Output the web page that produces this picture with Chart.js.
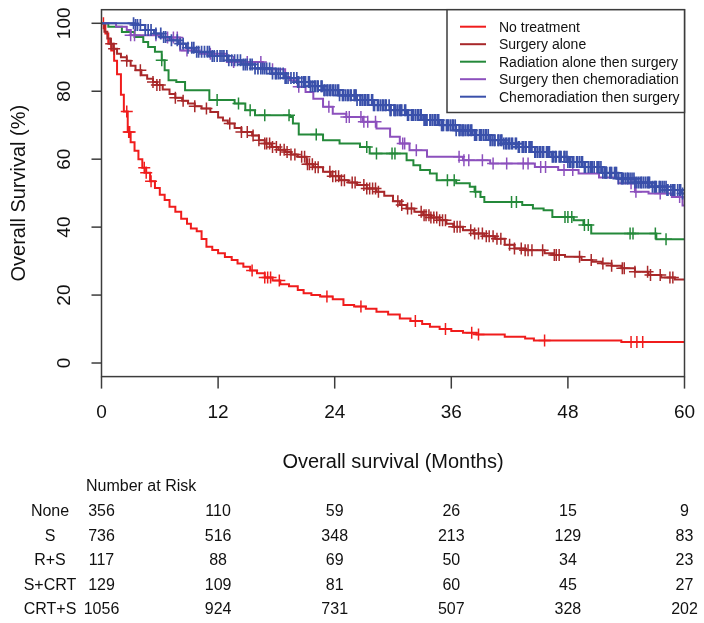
<!DOCTYPE html>
<html>
<head>
<meta charset="utf-8">
<script src="https://cdn.jsdelivr.net/npm/chart.js@4.4.1/dist/chart.umd.min.js"></script>
<style>
  html, body { margin: 0; padding: 0; background: #fff; }
  #wrap { width: 704px; height: 623px; position: relative; }
</style>
</head>
<body>
<div id="wrap"><canvas id="kmChart"></canvas></div>
<script>
// --- Data ---
const groupNames = ['No treatment', 'Surgery alone', 'Radiation alone then surgery', 'Surgery then chemoradiation', 'Chemoradiation then surgery'];
const groupColors = ['#f01c1c', '#a8282a', '#24893a', '#8c50bd', '#3a50aa'];

const xTicks = [0, 12, 24, 36, 48, 60];
const yTicks = [0, 20, 40, 60, 80, 100];

// No treatment
const noneTimes = [0, 0.4, 0.7, 1.0, 1.3, 1.6, 2.0, 2.3, 2.7, 3.0, 3.4, 3.8, 4.2, 4.6, 5.0, 5.5, 6.0, 6.5, 7.0, 7.6, 8.2, 8.8, 9.2, 9.8, 10.3, 10.8, 11.4, 12.0, 12.7, 13.4, 14.0, 14.6, 15.3, 16.0, 16.8, 17.6, 18.4, 19.3, 20.2, 20.8, 21.6, 22.5, 23.8, 24.9, 26.0, 27.2, 28.3, 29.5, 30.7, 31.8, 33.0, 33.8, 34.8, 36.0, 37.2, 38.6, 41.5, 43.6, 44.5, 53.5, 60];
const noneSurv  = [100, 97, 94, 92, 89, 85, 79, 74, 68, 65, 62.5, 60, 57.5, 56, 53.5, 51.5, 49.5, 48, 46, 44.5, 42.5, 41, 39.6, 38.8, 36.5, 34.2, 33.3, 32.3, 31.2, 30.3, 29.3, 28.3, 27.2, 26.4, 25.2, 24.3, 23.2, 22.6, 21.5, 20.5, 20.0, 19.6, 18.8, 17.1, 16.6, 16.0, 15.1, 14.3, 13.1, 12.4, 11.5, 10.7, 10.0, 9.4, 8.9, 8.4, 7.7, 7.2, 6.6, 6.2, 6.2];
const noneCens  = [0.2, 2.6, 2.8, 2.9, 4.4, 4.6, 5.1, 15.5, 16.8, 17.1, 17.4, 18.3, 23.2, 26.7, 32.3, 35.4, 38.1, 38.8, 45.6, 54.5, 55.1, 55.7];

// Surgery alone
const sTimes = [0, 0.3, 0.6, 0.9, 1.2, 1.6, 2.0, 2.6, 3.0, 3.5, 4.1, 4.7, 5.3, 5.7, 6.3, 7.0, 7.6, 8.3, 8.9, 9.6, 10.3, 11.2, 12.0, 12.5, 13.0, 13.7, 14.4, 15.5, 16.2, 16.8, 17.5, 18.2, 18.9, 19.5, 20.2, 21.1, 21.8, 22.8, 23.6, 24.5, 25.4, 26.3, 27.3, 28.3, 29.1, 30.0, 30.7, 31.4, 32.2, 33.1, 33.9, 34.8, 35.5, 36.2, 37.2, 38.3, 39.4, 40.5, 41.5, 42.5, 43.6, 45.6, 46.6, 47.7, 49.4, 50.5, 51.5, 52.5, 53.5, 54.9, 56.3, 57.6, 59.0, 60];
const sSurv  = [100, 97.5, 95.5, 94, 92.5, 91, 90, 89, 87.5, 86.2, 84.7, 83.7, 82.7, 81.8, 80.5, 79.2, 78.1, 77.2, 76.4, 75.6, 74.9, 73.9, 72.3, 71.4, 70.5, 69.2, 68.0, 67.0, 65.6, 64.6, 63.6, 62.8, 62.1, 61.4, 60.7, 58.5, 57.6, 56.3, 55.0, 53.8, 53.1, 52.4, 51.4, 50.4, 49.2, 47.6, 46.5, 45.5, 44.5, 43.5, 42.8, 42.0, 41.0, 40.1, 39.1, 38.1, 37.3, 36.6, 34.8, 33.7, 33.2, 32.3, 31.8, 31.3, 30.3, 29.8, 29.3, 28.6, 27.9, 26.9, 25.9, 25.2, 24.6, 24.6];
const sCens  = [1.0, 1.3, 2.6, 4.0, 5.3, 5.7, 6.0, 7.6, 8.4, 9.6, 10.8, 13.2, 14.4, 15.0, 15.6, 16.2, 16.8, 17.0, 17.3, 17.6, 18.0, 18.4, 18.8, 19.1, 19.5, 19.9, 20.6, 20.9, 21.2, 21.4, 21.7, 22.0, 22.3, 23.5, 23.8, 24.1, 24.4, 24.7, 25.0, 25.8, 26.1, 27.0, 27.3, 27.6, 27.9, 28.2, 28.5, 30.5, 30.9, 31.5, 31.9, 32.9, 33.2, 33.4, 33.7, 33.9, 34.2, 34.5, 34.8, 35.1, 35.4, 36.3, 36.6, 36.9, 38.0, 38.4, 38.8, 39.2, 39.6, 39.9, 40.3, 40.7, 41.1, 42.0, 42.5, 43.2, 43.6, 43.9, 44.3, 45.4, 46.6, 46.8, 47.1, 49.2, 50.4, 51.6, 52.5, 53.6, 53.8, 54.9, 56.2, 56.5, 57.5, 58.5, 58.8];

// Radiation alone then surgery
const rsTimes = [0, 0.7, 2.1, 3.4, 4.3, 4.8, 5.5, 6.2, 6.5, 6.9, 7.7, 8.6, 11.1, 13.7, 14.8, 15.8, 19.4, 19.7, 20.3, 22.8, 24.5, 26.6, 27.6, 31.4, 32.1, 32.8, 33.8, 34.5, 36.5, 37.9, 38.4, 39.0, 39.4, 43.3, 44.4, 45.5, 46.4, 48.6, 49.6, 50.4, 57.1, 60];
const rsSurv  = [100, 99, 97.4, 96, 94.5, 93, 91.6, 89.1, 86.2, 83.2, 82.7, 80.3, 77.4, 76.4, 74.4, 72.9, 72.4, 70.5, 67.3, 65.6, 64.6, 63.6, 61.7, 59.7, 58.2, 56.8, 55.8, 53.8, 52.9, 51.9, 50.4, 48.9, 47.4, 46.5, 45.5, 45.0, 43.0, 42.0, 40.6, 38.1, 36.4, 36.4];
const rsCens  = [6.2, 11.9, 14.1, 15.3, 16.8, 19.3, 22.1, 27.3, 28.3, 29.9, 30.2, 35.6, 36.3, 38.5, 42.2, 42.7, 47.7, 48.0, 48.4, 49.7, 50.1, 54.4, 54.7, 57.0, 58.1];

// Surgery then chemoradiation
const scTimes = [0, 1.5, 2.6, 3.0, 6.0, 8.1, 10.1, 12.9, 16.6, 18.9, 19.4, 20.2, 21.0, 21.8, 22.8, 23.8, 25.2, 26.9, 28.3, 29.7, 30.7, 31.7, 33.5, 37.2, 40.0, 44.6, 47.0, 49.1, 51.2, 53.2, 54.9, 56.3, 58.7, 59.8, 60];
const scSurv  = [100, 99, 98, 96.5, 95.8, 92, 91, 88.6, 86.5, 84.2, 83.2, 81.3, 79.8, 77.8, 75.4, 73.4, 72.4, 71.0, 69.0, 66.6, 64.6, 62.6, 60.7, 59.7, 58.7, 57.7, 56.8, 55.8, 54.6, 52.9, 50.4, 49.9, 48.9, 46.4, 46.4];
const scCens  = [3.0, 3.4, 5.6, 6.8, 7.4, 7.8, 8.8, 11.2, 13.6, 15.0, 16.4, 17.6, 20.3, 23.4, 25.2, 25.5, 26.7, 27.0, 27.4, 28.2, 31.0, 31.2, 32.4, 36.8, 37.3, 37.8, 39.2, 40.3, 41.7, 43.4, 43.9, 45.2, 45.7, 47.6, 48.5, 54.5, 55.0, 57.5, 59.5];

// Chemoradiation then surgery
const crtTimes = [0, 3.4, 4.5, 5.4, 6.2, 7.0, 7.9, 8.7, 9.6, 11.3, 13.0, 14.4, 15.8, 17.5, 18.9, 20.2, 21.5, 22.8, 24.5, 26.3, 28.0, 29.7, 31.4, 33.1, 34.8, 36.5, 38.2, 40.0, 41.4, 42.9, 44.6, 46.3, 48.0, 49.7, 51.5, 53.2, 54.9, 56.6, 58.2, 59.7, 60];
const crtSurv  = [100, 99.5, 98, 97, 96, 95, 94, 92.8, 91.6, 90.4, 89.1, 87.9, 86.7, 85.2, 83.9, 82.7, 81.5, 80.3, 78.8, 77.4, 75.9, 74.4, 73.0, 71.5, 70.0, 68.5, 67.1, 65.6, 64.6, 63.6, 62.1, 60.7, 59.2, 57.7, 56.0, 54.3, 53.1, 51.9, 50.9, 49.9, 49.9];
const crtCens  = [3.3, 3.5, 3.7, 4.0, 4.5, 4.8, 5.1, 5.6, 6.1, 6.4, 6.6, 7.2, 7.8, 8.1, 8.4, 8.9, 9.3, 9.5, 9.8, 10.0, 10.3, 10.6, 10.9, 11.1, 11.4, 11.6, 11.9, 12.2, 12.4, 12.6, 12.9, 13.1, 13.4, 13.7, 14.0, 14.3, 14.6, 14.8, 15.0, 15.3, 15.5, 15.8, 16.1, 16.4, 16.6, 16.8, 17.0, 17.3, 17.6, 17.9, 18.0, 18.2, 18.4, 18.7, 18.9, 19.0, 19.2, 19.5, 19.8,
  20.1, 20.2, 20.3, 20.6, 20.8, 20.9, 21.0, 21.3, 21.4, 21.5, 21.7, 21.9, 22.0, 22.2, 22.3, 22.6, 22.7, 22.9, 23.0, 23.2, 23.3, 23.5, 23.6, 23.8, 23.9, 24.1, 24.3, 24.4, 24.5, 24.8, 24.9, 25.1, 25.3, 25.4, 25.6, 25.7, 26.0, 26.1, 26.2, 26.3, 26.6, 26.7, 26.9, 27.1, 27.2, 27.4, 27.5, 27.8, 27.9, 28.0, 28.1, 28.4, 28.5, 28.7, 28.9, 29.0, 29.2, 29.3, 29.6, 29.7, 29.8, 30.1, 30.2, 30.3, 30.5, 30.7, 30.8, 30.9, 31.2, 31.3, 31.5, 31.6, 31.9, 32.0, 32.1, 32.3, 32.5, 32.6, 32.8, 32.9, 33.2, 33.3, 33.4, 33.5, 33.8, 33.9, 34.1, 34.3, 34.4, 34.6, 34.7, 35.0, 35.1, 35.2, 35.5, 35.6, 35.7, 35.9, 36.1, 36.2, 36.4, 36.5, 36.8, 36.9, 37.1, 37.2, 37.3, 37.5, 37.7, 37.8, 38.0, 38.1, 38.4, 38.5, 38.6, 38.9, 39.0, 39.1, 39.3, 39.5, 39.6, 39.8, 40.0, 40.2, 40.4, 40.5, 40.8, 40.9, 41.1, 41.2, 41.4, 41.6, 41.7, 41.9, 42.0, 42.2, 42.3, 42.6, 42.7, 42.9, 43.0, 43.3, 43.4, 43.6, 43.7, 44.0, 44.1, 44.2, 44.3, 44.6, 44.7, 44.9, 45.1, 45.2, 45.4, 45.5, 45.8, 45.9, 46.0, 46.1, 46.4, 46.5, 46.7, 46.8, 47.1, 47.2, 47.3, 47.6, 47.7, 47.9, 48.0, 48.2, 48.3, 48.5, 48.6, 48.9, 49.0, 49.2, 49.4, 49.5, 49.7, 49.8, 50.1, 50.3, 50.4, 50.5, 50.7, 51.0, 51.1, 51.2, 51.4, 51.6, 51.8, 51.9, 52.0, 52.3, 52.4, 52.5, 52.8, 52.9, 53.0, 53.2, 53.5, 53.6, 53.7, 53.9, 54.1, 54.2, 54.4, 54.6, 54.8, 54.9, 55.1, 55.3, 55.5, 55.6, 55.8, 56.0, 56.2, 56.3, 56.4, 56.7, 56.9, 57.0, 57.1, 57.4, 57.5, 57.7, 57.9, 58.1, 58.2, 58.3, 58.6, 58.8, 58.9, 59.0, 59.3, 59.5, 59.6, 59.8];

// Number at risk
const riskLabels = ['None', 'S', 'R+S', 'S+CRT', 'CRT+S'];
const riskNone = [356, 110, 59, 26, 15, 9];
const riskS    = [736, 516, 348, 213, 129, 83];
const riskRS   = [117, 88, 69, 50, 34, 23];
const riskSC   = [129, 109, 81, 60, 45, 27];
const riskCRT  = [1056, 924, 731, 507, 328, 202];

// --- Helpers ---
function toPoints(times, surv) {
    return times.map((t, i) => ({ x: t, y: surv[i] }));
}

// survival level of the step curve at time t
function survAt(times, surv, t) {
    let s = surv[0];
    for (let i = 0; i < times.length; i++) {
        if (times[i] <= t) s = surv[i];
    }
    return s;
}

function censorPoints(times, surv, cens) {
    return cens.map(t => ({ x: t, y: survAt(times, surv, t) }));
}

const groups = [
    { times: noneTimes, surv: noneSurv, cens: noneCens },
    { times: sTimes, surv: sSurv, cens: sCens },
    { times: rsTimes, surv: rsSurv, cens: rsCens },
    { times: scTimes, surv: scSurv, cens: scCens },
    { times: crtTimes, surv: crtSurv, cens: crtCens }
];
const riskRows = [riskNone, riskS, riskRS, riskSC, riskCRT];

const datasets = [];
groups.forEach((g, i) => {
    datasets.push({
        label: groupNames[i],
        data: toPoints(g.times, g.surv),
        stepped: 'before',
        borderColor: groupColors[i],
        borderWidth: 2,
        pointRadius: 0,
        fill: false,
        order: 10 - 2 * i
    });
    datasets.push({
        label: groupNames[i] + ' censored',
        data: censorPoints(g.times, g.surv, g.cens),
        showLine: false,
        pointStyle: 'cross',
        pointRadius: 6,
        pointBorderWidth: i === 4 ? 1.7 : 1.5,
        borderColor: groupColors[i],
        backgroundColor: groupColors[i],
        order: 9 - 2 * i
    });
});

const FONT = '"Liberation Sans", Arial, sans-serif';

// draws the R-style box, axes, legend and risk table
const decorPlugin = {
    id: 'decor',
    afterDraw(chart) {
        const ctx = chart.ctx;
        const area = chart.chartArea;
        const xs = chart.scales.x;
        const ys = chart.scales.y;
        ctx.save();

        // box
        ctx.strokeStyle = '#3c3c3c';
        ctx.lineWidth = 1.5;
        ctx.strokeRect(area.left, area.top, area.right - area.left, area.bottom - area.top);

        // y axis ticks + rotated labels
        ctx.fillStyle = '#111';
        ctx.font = '19px ' + FONT;
        ctx.textAlign = 'center';
        ctx.textBaseline = 'middle';
        yTicks.forEach(v => {
            const py = ys.getPixelForValue(v);
            ctx.beginPath();
            ctx.moveTo(area.left - 10, py);
            ctx.lineTo(area.left, py);
            ctx.stroke();
            ctx.save();
            ctx.translate(64.5, py);
            ctx.rotate(-Math.PI / 2);
            ctx.fillText(String(v), 0, 0);
            ctx.restore();
        });

        // x axis ticks + labels
        xTicks.forEach(v => {
            const px = xs.getPixelForValue(v);
            ctx.beginPath();
            ctx.moveTo(px, area.bottom);
            ctx.lineTo(px, area.bottom + 12);
            ctx.stroke();
            ctx.fillText(String(v), px, 413);
        });

        // axis titles
        ctx.font = '20px ' + FONT;
        ctx.fillText('Overall survival (Months)', (area.left + area.right) / 2, 462);
        ctx.save();
        ctx.translate(19, (area.top + area.bottom) / 2);
        ctx.rotate(-Math.PI / 2);
        ctx.fillText('Overall Survival (%)', 0, 0);
        ctx.restore();

        // legend
        const lgLeft = 447, lgTop = area.top, lgRight = area.right, lgBottom = 112.5;
        ctx.fillStyle = '#fff';
        ctx.fillRect(lgLeft, lgTop, lgRight - lgLeft, lgBottom - lgTop);
        ctx.strokeStyle = '#3c3c3c';
        ctx.lineWidth = 1.5;
        ctx.strokeRect(lgLeft, lgTop, lgRight - lgLeft, lgBottom - lgTop);
        ctx.font = '14px ' + FONT;
        ctx.textAlign = 'left';
        groupNames.forEach((name, i) => {
            const ly = 26.7 + i * 17.5;
            ctx.strokeStyle = groupColors[i];
            ctx.lineWidth = 2;
            ctx.beginPath();
            ctx.moveTo(460, ly);
            ctx.lineTo(486, ly);
            ctx.stroke();
            ctx.fillStyle = '#111';
            ctx.fillText(name, 499, ly + 1);
        });

        // number at risk table
        ctx.font = '16px ' + FONT;
        ctx.fillStyle = '#111';
        ctx.textAlign = 'left';
        ctx.fillText('Number at Risk', 86, 487);
        riskRows.forEach((row, r) => {
            const ry = 512 + r * 24.5;
            ctx.textAlign = 'center';
            ctx.fillText(riskLabels[r], 50, ry);
            row.forEach((n, c) => {
                ctx.fillText(String(n), xs.getPixelForValue(xTicks[c]), ry);
            });
        });

        ctx.restore();
    }
};

new Chart(document.getElementById('kmChart'), {
    type: 'line',
    data: { datasets: datasets },
    options: {
        responsive: true,
        maintainAspectRatio: false,
        animation: false,
        devicePixelRatio: 1,
        layout: { padding: { left: 101.5, right: 19.5, top: 9.7, bottom: 246.4 } },
        plugins: { legend: { display: false }, tooltip: { enabled: false } },
        scales: {
            x: { type: 'linear', min: 0, max: 60, display: false },
            y: { type: 'linear', min: -4, max: 104, display: false }
        }
    },
    plugins: [decorPlugin]
});
</script>
</body>
</html>
